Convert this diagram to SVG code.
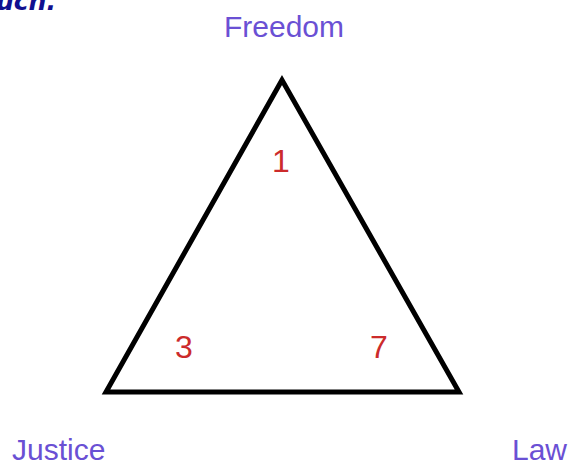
<svg xmlns="http://www.w3.org/2000/svg" width="571" height="466" viewBox="0 0 571 466">
<style>
.lbl{font-family:"Liberation Sans",Arial,sans-serif;font-size:30px;fill:#6a50d4}
.num{font-family:"Liberation Sans",Arial,sans-serif;font-size:32px;fill:#cc2b2b}
.cut{font-family:"DejaVu Sans",sans-serif;font-size:25px;font-weight:bold;font-style:italic;fill:#101090}
</style>
<rect width="571" height="466" fill="#ffffff"/>
<text class="cut" x="-4" y="10">uch.</text>
<g id="connectors">
<polygon points="282,80 106,392 459,392" fill="none" stroke="#000" stroke-width="5" stroke-linejoin="miter"/>
</g>
<g id="freedom"><text class="lbl" x="284" y="37" text-anchor="middle">Freedom</text></g>
<g id="justice"><text class="lbl" x="12" y="460">Justice</text></g>
<g id="law"><text class="lbl" x="567" y="460" text-anchor="end">Law</text></g>
<g id="n1"><text class="num" x="281" y="172" text-anchor="middle">1</text></g>
<g id="n3"><text class="num" x="184" y="358" text-anchor="middle">3</text></g>
<g id="n7"><text class="num" x="379" y="358" text-anchor="middle">7</text></g>
</svg>
